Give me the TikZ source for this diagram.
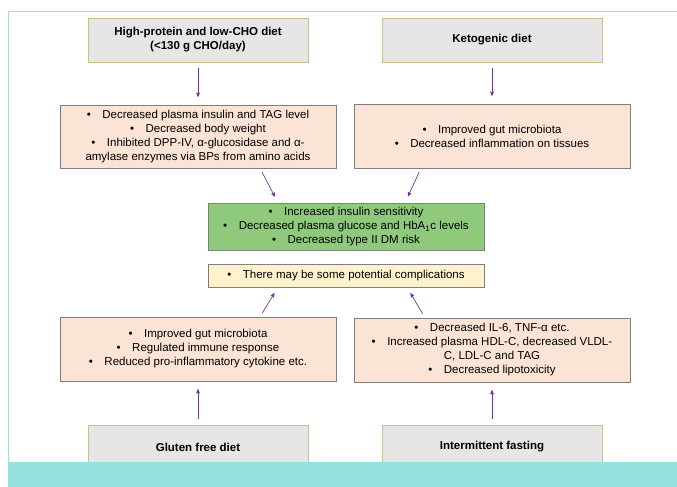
\documentclass[tikz,border=0pt]{standalone}
\usepackage{fontspec}
\setmainfont{Liberation Sans}
\usetikzlibrary{arrows}
\newcommand\Bw{276}
\newcommand\bul{\textbullet\quad}

\definecolor{dietfill}{HTML}{E7E6E6}
\definecolor{dietline}{HTML}{D2BE86}
\definecolor{peach}{HTML}{FBE3D6}
\definecolor{boxline}{HTML}{7F7F7F}
\definecolor{leaf}{HTML}{8FCA7C}
\definecolor{cream}{HTML}{FFF2CC}
\definecolor{arrowc}{HTML}{7030A0}
\definecolor{framec}{HTML}{98E1E3}

\begin{document}
\begin{tikzpicture}[x=1pt,y=-1pt,->,>=stealth',semithick,
                    font=\fontsize{11.5}{14}\selectfont]

  \tikzstyle{diet}=[rectangle,draw=dietline,fill=dietfill,thin,align=center,
                    minimum width=220pt,minimum height=44pt,inner sep=0pt,
                    font=\fontsize{11.5}{14}\selectfont\bfseries]
  \tikzstyle{effect}=[rectangle,draw=boxline,fill=peach,thin,align=center,
                      minimum width=\Bw pt,inner sep=0pt]
  \tikzstyle{arr}=[draw=arrowc,fill=arrowc]

  \useasboundingbox (0,0) rectangle (677,487);
  \draw[-,framec,line width=1pt] (8,487) -- (8,12) -- (677,12);

  \node[diet] (HPD) at (198,40)    {High-protein and low-CHO diet \\ (<130 g CHO/day)};
  \node[diet] (KET) at (492,40)    {Ketogenic diet};
  \node[effect,minimum height=63pt] (HPE) at (198,136.5)
    {\bul Decreased plasma insulin and TAG level \\
     \bul Decreased body weight \\
     \bul Inhibited DPP-IV, α-glucosidase and α- \\
     amylase enzymes via BPs from amino acids};
  \node[effect,minimum height=64pt] (KEE) at (492,136)
    {\bul Improved gut microbiota \\
     \bul Decreased inflammation on tissues};
  \node[effect,fill=leaf,minimum height=47pt] (GRN) at (346,226.5)
    {\bul Increased insulin sensitivity \\
     \bul Decreased plasma glucose and HbA\textsubscript{1}c levels \\
     \bul Decreased type II DM risk};
  \node[effect,fill=cream,minimum height=23pt] (CMP) at (346,275.5)
    {\bul There may be some potential complications};
  \node[effect,minimum height=64pt] (GFE) at (198,349)
    {\bul Improved gut microbiota \\
     \bul Regulated immune response \\
     \bul Reduced pro-inflammatory cytokine etc.};
  \node[effect,minimum height=64pt] (IFE) at (492,350)
    {\bul Decreased IL-6, TNF-α etc. \\
     \bul Increased plasma HDL-C, decreased VLDL- \\
     C, LDL-C and TAG \\
     \bul Decreased lipotoxicity};
  \node[diet] (GFD) at (198,447)   {Gluten free diet};
  \node[diet] (IFD) at (492,447)   {Intermittent fasting};

\path[shorten <=6pt,shorten >=8pt]
(HPD) edge[arr] (HPE)
(KET) edge[arr] (KEE)
(GFD) edge[arr] (GFE)
(IFD) edge[arr] (IFE)
;
\path[shorten <=4.5pt,shorten >=7pt]
([xshift=62pt]HPE.south)  edge[arr] ([xshift=-68pt]GRN.north)
([xshift=-71pt]KEE.south) edge[arr] ([xshift=59pt]GRN.north)
([xshift=62pt]GFE.north)  edge[arr] ([xshift=-68pt]CMP.south)
([xshift=-67pt]IFE.north) edge[arr] ([xshift=61pt]CMP.south)
;

  \fill[framec] (8,462) rectangle (677,487);
\end{tikzpicture}
\end{document}
